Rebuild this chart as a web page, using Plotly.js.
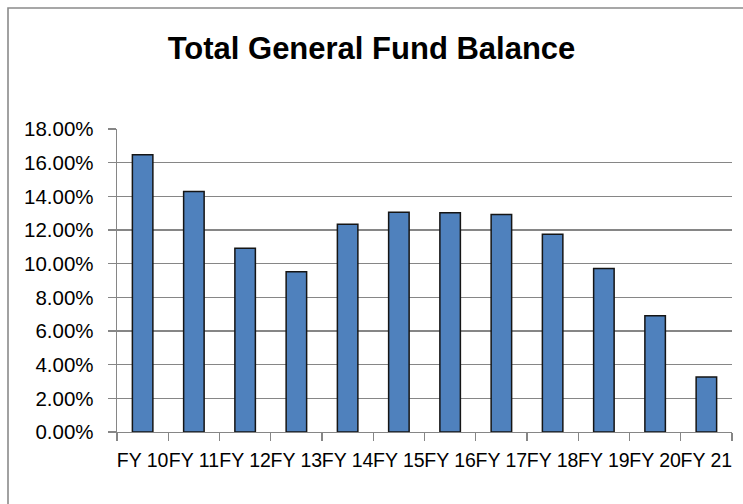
<!DOCTYPE html>
<html>
<head>
<meta charset="utf-8">
<script src="https://cdn.plot.ly/plotly-3.0.1.min.js"></script>
<style>
  html, body { margin: 0; padding: 0; background: #ffffff; }
  #chart { width: 743px; height: 504px; }
</style>
</head>
<body>
<div id="chart"></div>
<script>
const categories = ['FY 10','FY 11','FY 12','FY 13','FY 14','FY 15','FY 16','FY 17','FY 18','FY 19','FY 20','FY 21'];
const balance = [0.1647, 0.1429, 0.1091, 0.0952, 0.1234, 0.1306, 0.1302, 0.1292, 0.1175, 0.0972, 0.0690, 0.0327];
const yTicks = [0, 0.02, 0.04, 0.06, 0.08, 0.10, 0.12, 0.14, 0.16, 0.18];
const chartTitle = 'Total General Fund Balance';

const W = 743, H = 504;
const margin = {l: 117, r: 11, t: 129, b: 72};
const pw = W - margin.l - margin.r, ph = H - margin.t - margin.b;
const px2x = p => (p - margin.l) / pw;
const px2y = p => (H - margin.b - p) / ph;

const trace = {
  type: 'bar',
  x: categories,
  y: balance,
  marker: { color: '#4F81BD', line: { color: '#151515', width: 1.5 } },
  hoverinfo: 'x+y'
};

const tickFont = { family: 'Liberation Sans, Arial, sans-serif', size: 19.5, color: '#000000' };

const layout = {
  width: W, height: H,
  margin: margin,
  paper_bgcolor: '#ffffff',
  plot_bgcolor: '#ffffff',
  showlegend: false,
  bargap: 0.6,
  title: {
    text: '<b>' + chartTitle + '</b>',
    font: { family: 'Liberation Sans, Arial, sans-serif', size: 31, color: '#000000' },
    x: 371.5 / W, xref: 'container', xanchor: 'center',
    y: 1 - 48.5 / H, yref: 'container', yanchor: 'middle'
  },
  xaxis: {
    type: 'category',
    showgrid: false,
    showline: true, linecolor: '#868686', linewidth: 1.3,
    ticks: 'outside', tickson: 'boundaries', ticklen: 8, tickcolor: '#868686', tickwidth: 1.3,
    tickfont: tickFont,
    tickangle: 0,
    ticklabelstandoff: 10,
    fixedrange: true
  },
  yaxis: {
    range: [0, 0.18],
    tickvals: yTicks,
    tickformat: '.2%',
    showgrid: true, gridcolor: '#868686', gridwidth: 1.3,
    zeroline: false,
    showline: true, linecolor: '#868686', linewidth: 1.3,
    ticks: 'outside', ticklen: 8, tickcolor: '#868686', tickwidth: 1.3,
    tickfont: Object.assign({}, tickFont, { size: 20.5 }),
    ticklabelstandoff: 10,
    fixedrange: true
  },
  shapes: [{
    type: 'rect', xref: 'paper', yref: 'paper',
    x0: px2x(8), x1: px2x(760), y0: px2y(520), y1: px2y(8),
    line: { color: '#8a8a8a', width: 1.6 }, fillcolor: 'rgba(0,0,0,0)', layer: 'below'
  }]
};

Plotly.newPlot('chart', [trace], layout, { displayModeBar: false, staticPlot: true });
</script>
</body>
</html>
